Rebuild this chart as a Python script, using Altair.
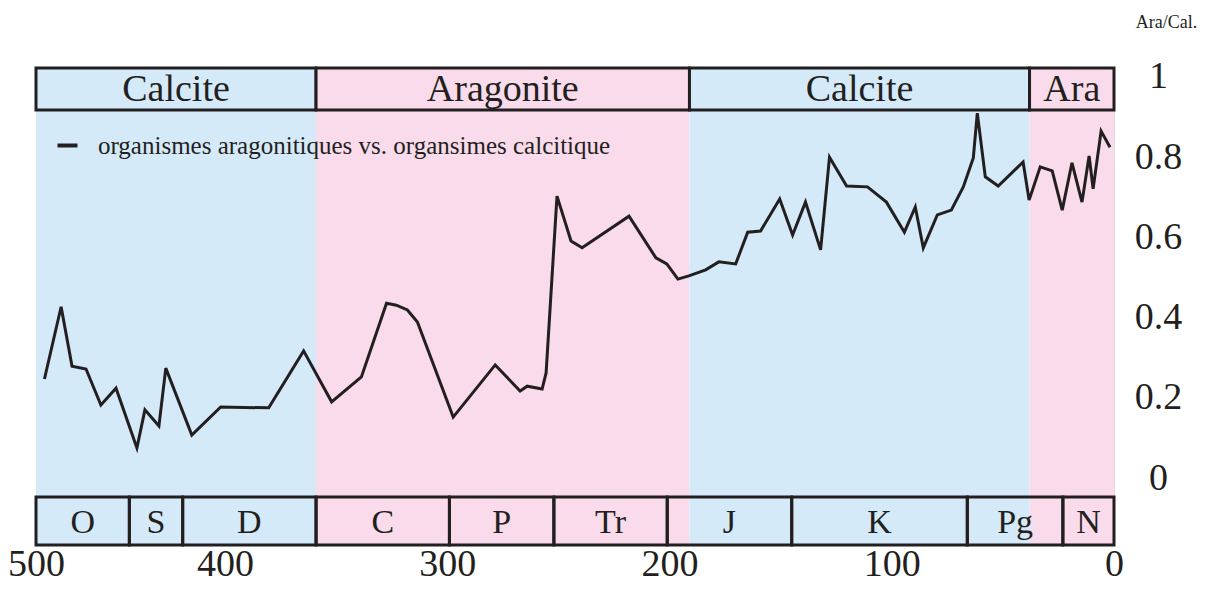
import altair as alt
import pandas as pd

# ---- data ----
ages = [481.2, 473.7, 468.8, 462.5, 455.8, 449.0, 439.6, 436.0, 429.7, 426.6,
        414.9, 401.9, 380.3, 364.6, 352.0, 338.6, 327.3, 322.9, 317.9, 313.4,
        297.3, 278.4, 267.2, 264.0, 257.3, 255.5, 250.6, 244.3, 239.3, 218.2,
        206.1, 201.2, 196.2, 191.3, 183.7, 177.8, 170.2, 164.8, 159.0, 150.4,
        144.6, 138.8, 132.0, 128.0, 120.3, 110.9, 102.4, 94.3, 89.4, 85.8,
        79.5, 73.2, 67.8, 63.3, 61.5, 57.9, 52.1, 40.9, 38.2, 33.2,
        27.8, 23.3, 18.9, 14.4, 11.2, 9.4, 5.8, 1.8]
ratio = [0.247, 0.427, 0.279, 0.272, 0.182, 0.224, 0.075, 0.170, 0.130, 0.274,
         0.107, 0.177, 0.175, 0.317, 0.190, 0.252, 0.436, 0.431, 0.419, 0.389,
         0.152, 0.282, 0.217, 0.229, 0.222, 0.262, 0.703, 0.591, 0.574, 0.653,
         0.549, 0.534, 0.496, 0.504, 0.519, 0.539, 0.534, 0.613, 0.616, 0.696,
         0.606, 0.688, 0.569, 0.800, 0.728, 0.726, 0.688, 0.613, 0.676, 0.574,
         0.656, 0.668, 0.726, 0.798, 0.910, 0.751, 0.728, 0.788, 0.693, 0.776,
         0.766, 0.668, 0.786, 0.688, 0.803, 0.721, 0.865, 0.825]
series_name = "organismes aragonitiques vs. organsimes calcitique"

era_labels = ["Calcite", "Aragonite", "Calcite", "Ara"]
era_mineral = ["Calcite", "Aragonite", "Calcite", "Aragonite"]
era_start = [485, 359, 191, 38]
era_end = [359, 191, 38, 0]

period_labels = ["O", "S", "D", "C", "P", "Tr", "J", "K", "Pg", "N"]
period_start = [485, 443, 419, 359, 299, 252, 201, 145, 66, 23]
period_end = [443, 419, 359, 299, 252, 201, 145, 66, 23, 0]

x_ticks = [485, 400, 300, 200, 100, 0]
y_ticks = [0, 0.2, 0.4, 0.6, 0.8, 1]

BLUE = "#d5eaf9"
PINK = "#f9dbeb"
INK = "#231f20"
FONT = "Liberation Serif"

W, H = 1078, 477
HEAD_H = 42
PER_TOP = 429

line_df = pd.DataFrame({"age": ages, "ratio": ratio, "series": series_name})
era_df = pd.DataFrame({"label": era_labels, "mineral": era_mineral,
                       "start": era_start, "end": era_end})
era_df["mid"] = (era_df["start"] + era_df["end"]) / 2
per_df = pd.DataFrame({"label": period_labels, "start": period_start, "end": period_end})
per_df["mid"] = (per_df["start"] + per_df["end"]) / 2

xscale = alt.Scale(domain=[0, 485], reverse=True, nice=False, zero=False)
yscale = alt.Scale(domain=[-0.167, 1.0224], nice=False, zero=False)
fillscale = alt.Scale(domain=["Calcite", "Aragonite"], range=[BLUE, PINK])

xaxis = alt.Axis(values=x_ticks, labelExpr="datum.value > 450 ? '500' : datum.label",
                 grid=False, domain=False, ticks=False, tickSize=0,
                 labelFlush=False, labelBound=False, labelOverlap=False,
                 labelFont=FONT, labelFontSize=38, labelColor=INK,
                 labelPadding=0, labelBaseline="top", title=None)
yaxis = alt.Axis(values=y_ticks, format="~g", orient="right", grid=False,
                 domain=False, ticks=False, tickSize=0,
                 labelFont=FONT, labelFontSize=38, labelColor=INK,
                 labelAlign="center", labelBaseline="middle", labelPadding=44,
                 title="Ara/Cal.", titleAngle=0, titleX=52, titleY=-46,
                 titleFont=FONT, titleFontSize=18, titleFontWeight="normal",
                 titleColor=INK, titleAlign="center", titleBaseline="middle",
                 titleLimit=0)

base_era = alt.Chart(era_df)

background = base_era.mark_rect().encode(
    x=alt.X("start:Q", scale=xscale, axis=xaxis),
    x2="end:Q",
    y=alt.value(0), y2=alt.value(H),
    fill=alt.Fill("mineral:N", scale=fillscale, legend=None),
)

header = base_era.mark_rect(stroke=INK, strokeWidth=3).encode(
    x=alt.X("start:Q", scale=xscale),
    x2="end:Q",
    y=alt.value(0), y2=alt.value(HEAD_H),
    fill=alt.Fill("mineral:N", scale=fillscale, legend=None),
)

header_text = base_era.mark_text(font=FONT, fontSize=38, color=INK,
                                 baseline="middle", align="center").encode(
    x=alt.X("mid:Q", scale=xscale),
    y=alt.value(HEAD_H / 2 + 1),
    text="label:N",
)

periods = alt.Chart(per_df).mark_rect(fillOpacity=0, stroke=INK, strokeWidth=3).encode(
    x=alt.X("start:Q", scale=xscale),
    x2="end:Q",
    y=alt.value(PER_TOP), y2=alt.value(H),
)

period_text = alt.Chart(per_df).mark_text(font=FONT, fontSize=34, color=INK,
                                          baseline="middle", align="center").encode(
    x=alt.X("mid:Q", scale=xscale),
    y=alt.value((PER_TOP + H) / 2 + 2),
    text="label:N",
)

line = alt.Chart(line_df).mark_line(strokeWidth=3, strokeJoin="miter").encode(
    x=alt.X("age:Q", scale=xscale),
    y=alt.Y("ratio:Q", scale=yscale, axis=yaxis),
    stroke=alt.Stroke("series:N", scale=alt.Scale(range=[INK]),
                      legend=alt.Legend(orient="none", legendX=19, legendY=65,
                                        title=None, symbolType="stroke",
                                        symbolStrokeWidth=4, symbolSize=400,
                                        labelFont=FONT, labelFontSize=25,
                                        labelColor=INK, labelOffset=18,
                                        labelLimit=0, padding=0)),
)

chart = alt.layer(background, periods, header, header_text, period_text, line).properties(
    width=W, height=H,
    autosize=alt.AutoSizeParams(type="none"),
    padding={"left": 28, "top": 60, "right": 84, "bottom": 32},
).configure_view(stroke=INK, strokeWidth=3).configure(background="white")

chart.save("out.html", embed_options={"renderer": "svg", "actions": False})
